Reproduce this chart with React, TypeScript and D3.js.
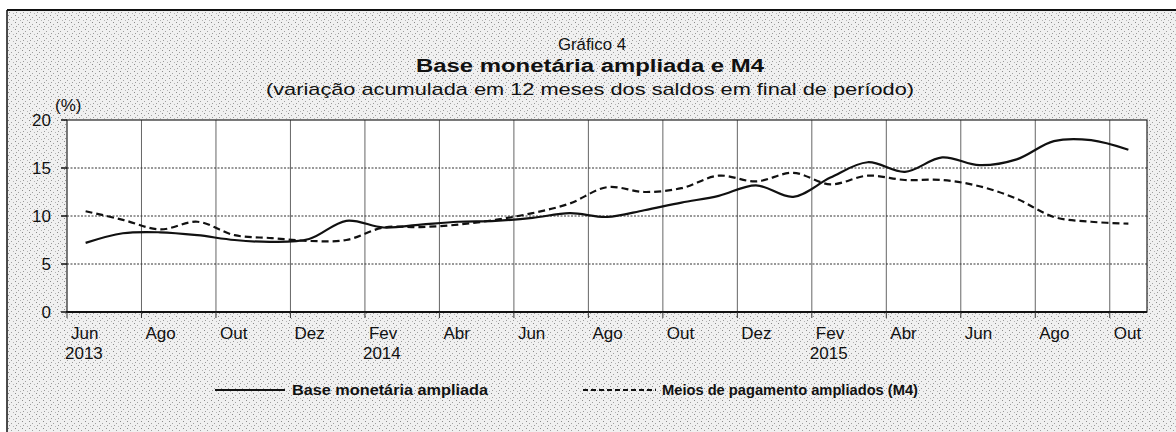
import React from "react";
import * as d3 from "d3";

const WIDTH = 1176;
const HEIGHT = 432;

// months Jun 2013 .. Out 2015
const months = [
  "Jun", "Jul", "Ago", "Set", "Out", "Nov", "Dez",
  "Jan", "Fev", "Mar", "Abr", "Mai", "Jun", "Jul", "Ago", "Set", "Out", "Nov", "Dez",
  "Jan", "Fev", "Mar", "Abr", "Mai", "Jun", "Jul", "Ago", "Set", "Out",
];
const yearLabels = [
  { index: 0, label: "2013" },
  { index: 8, label: "2014" },
  { index: 20, label: "2015" },
];

const baseMonetaria = [
  7.2, 8.2, 8.3, 8.0, 7.5, 7.3, 7.6,
  9.5, 8.8, 9.1, 9.4, 9.5, 9.8, 10.3, 9.9, 10.6, 11.4, 12.1, 13.2,
  12.0, 14.0, 15.6, 14.6, 16.1, 15.3, 15.9, 17.8, 17.9, 16.9,
];
const m4 = [
  10.5, 9.6, 8.6, 9.4, 8.0, 7.7, 7.4,
  7.5, 8.8, 8.85, 9.1, 9.6, 10.3, 11.3, 13.0, 12.5, 12.9, 14.2, 13.6,
  14.5, 13.3, 14.2, 13.75, 13.75, 13.1, 11.8, 9.9, 9.4, 9.2,
];
const yTicks = [0, 5, 10, 15, 20];

const FONT = "'Liberation Sans', Arial, Helvetica, sans-serif";

export default function App() {
  const x = d3.scaleLinear().domain([0, months.length]).range([67, 1147]);
  const y = d3.scaleLinear().domain([0, 20]).range([312, 120]);

  const line = d3
    .line<number>()
    .x((_, i) => x(i + 0.5))
    .y((d) => y(d))
    .curve(d3.curveCatmullRom.alpha(0.5));

  const tickIdx = d3.range(0, months.length, 2);

  return (
    <svg
      width={WIDTH}
      height={HEIGHT}
      style={{ position: "absolute", left: 0, top: 0 }}
      fontFamily={FONT}
    >
      <defs>
        <pattern id="halftone" width="7" height="7" patternUnits="userSpaceOnUse">
          <rect width="7" height="7" fill="#f0f0f0" />
          <rect x="1" y="1" width="1" height="1" fill="#8a8a8a" />
          <rect x="4" y="3" width="1" height="1" fill="#a0a0a0" />
          <rect x="2" y="5" width="1" height="1" fill="#9a9a9a" />
          <rect x="6" y="6" width="1" height="1" fill="#b4b4b4" />
        </pattern>
      </defs>

      <rect x={0} y={0} width={WIDTH} height={HEIGHT} fill="#fff" />
      <rect x={7} y={10} width={WIDTH} height={HEIGHT} fill="url(#halftone)" />
      <line x1={7} x2={WIDTH} y1={10} y2={10} stroke="#111" strokeWidth={2} />
      <line x1={7} x2={7} y1={10} y2={HEIGHT} stroke="#111" strokeWidth={1.5} />

      {/* titles */}
      <text x={592} y={50} textAnchor="middle" fontSize={17} fill="#111" textLength={68} lengthAdjust="spacingAndGlyphs">
        Gráfico 4
      </text>
      <text x={590} y={72} textAnchor="middle" fontSize={18} fontWeight="bold" fill="#111" textLength={348} lengthAdjust="spacingAndGlyphs">
        Base monetária ampliada e M4
      </text>
      <text x={590} y={95} textAnchor="middle" fontSize={17} fill="#111" textLength={648} lengthAdjust="spacingAndGlyphs">
        (variação acumulada em 12 meses dos saldos em final de período)
      </text>

      {/* plot area */}
      <rect x={x(0)} y={y(20)} width={x(months.length) - x(0)} height={y(0) - y(20)} fill="#fff" />

      {tickIdx.slice(1).map((i) => (
        <line key={"vg" + i} x1={x(i)} x2={x(i)} y1={y(20)} y2={y(0)} stroke="#666" strokeWidth={1} />
      ))}
      {yTicks.slice(1, -1).map((t) => (
        <line
          key={"hg" + t}
          x1={x(0)}
          x2={x(months.length)}
          y1={y(t)}
          y2={y(t)}
          stroke="#333"
          strokeWidth={1}
          strokeDasharray="2,1.5"
        />
      ))}

      {/* frame */}
      <rect
        x={x(0)}
        y={y(20)}
        width={x(months.length) - x(0)}
        height={y(0) - y(20)}
        fill="none"
        stroke="#222"
        strokeWidth={1.2}
      />
      <line x1={x(0) - 1} x2={x(months.length)} y1={y(0)} y2={y(0)} stroke="#111" strokeWidth={2} />

      {/* y axis */}
      {yTicks.map((t) => (
        <g key={"yt" + t}>
          <line x1={x(0) - 6} x2={x(0)} y1={y(t)} y2={y(t)} stroke="#111" strokeWidth={1.5} />
          <text x={51} y={y(t) + 6} textAnchor="end" fontSize={17} fill="#111">
            {t}
          </text>
        </g>
      ))}
      <text x={55} y={111} fontSize={17} fill="#111">
        (%)
      </text>

      {/* x axis */}
      {tickIdx.map((i) => (
        <g key={"xt" + i}>
          <line x1={x(i)} x2={x(i)} y1={y(0)} y2={y(0) + 6} stroke="#333" strokeWidth={1} />
          <text x={x(i) + 4} y={339} fontSize={17} fill="#111">
            {months[i]}
          </text>
        </g>
      ))}
      {yearLabels.map((d) => (
        <text key={d.label} x={x(d.index) - 2} y={359} fontSize={17} fill="#111">
          {d.label}
        </text>
      ))}

      {/* series */}
      <path d={line(baseMonetaria) ?? ""} fill="none" stroke="#111" strokeWidth={2.2} />
      <path d={line(m4) ?? ""} fill="none" stroke="#111" strokeWidth={2.2} strokeDasharray="7,4" />

      {/* legend */}
      <line x1={215} x2={285} y1={390} y2={390} stroke="#111" strokeWidth={2.2} />
      <text x={292} y={395} fontSize={15} fontWeight="bold" fill="#111" textLength={196} lengthAdjust="spacingAndGlyphs">
        Base monetária ampliada
      </text>
      <line x1={583} x2={656} y1={390} y2={390} stroke="#111" strokeWidth={2} strokeDasharray="5,3" />
      <text x={662} y={395} fontSize={15} fontWeight="bold" fill="#111" textLength={256} lengthAdjust="spacingAndGlyphs">
        Meios de pagamento ampliados (M4)
      </text>
    </svg>
  );
}
